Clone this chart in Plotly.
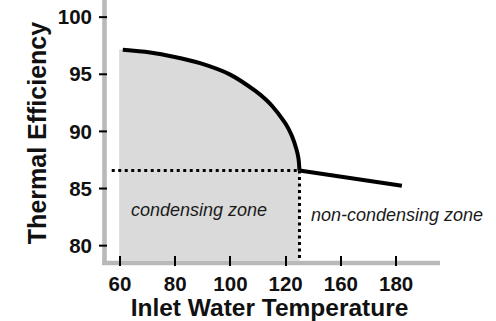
import plotly.graph_objects as go

# Axis positions (x in axis units; tick labels as printed on the chart)
tick_pos = [60, 80, 100, 120, 140, 160]
tick_labels = ["60", "80", "100", "120", "160", "180"]
y_ticks = [80, 85, 90, 95, 100]

# Condensing curve
curve_x = [61.0, 70.9, 79.3, 89.0, 99.9, 108.9, 112.6, 115.1, 119.4, 120.9, 122.3, 123.9, 124.6, 125.0]
curve_y = [97.14, 96.90, 96.54, 95.97, 94.97, 93.56, 92.83, 92.22, 90.88, 90.29, 89.57, 88.44, 87.69, 86.57]

# Non-condensing straight segment
noncond_x = [125.0, 162.1]
noncond_y = [86.57, 85.25]

# Shaded zone boundaries
zone_left = 59.7
zone_top_left = 97.2
zone_bottom = 78.66
axis_bottom = 78.22
axis_top = 101.5
x_min, x_max = 52.39, 175.9

# Gray axis rails (drawn as traces)
rail_x = 54.38
rail_y_low = 78.31
rail_y = 78.485
rail_x_left = 53.48

# Dotted guide lines
guide_h_x = [57.0, 125.0]
guide_y = 86.57
guide_v_bottom = 78.75

fig = go.Figure()
axis_gray = "#b9b9b9"

fig.add_trace(go.Scatter(x=[rail_x, rail_x], y=[rail_y_low, axis_top], mode="lines",
                         line=dict(color=axis_gray, width=4.6), hoverinfo="skip", showlegend=False))
fig.add_trace(go.Scatter(x=[rail_x_left, x_max], y=[rail_y, rail_y], mode="lines",
                         line=dict(color=axis_gray, width=4.5), hoverinfo="skip", showlegend=False))

fill_x = [zone_left, zone_left] + curve_x + [curve_x[-1]]
fill_y = [zone_bottom, zone_top_left] + curve_y + [zone_bottom]
fig.add_trace(go.Scatter(x=fill_x, y=fill_y, fill="toself", fillcolor="#dadada",
                         mode="none", hoverinfo="skip", showlegend=False))

fig.add_trace(go.Scatter(x=guide_h_x, y=[guide_y, guide_y], mode="lines",
                         line=dict(color="black", width=3, dash="3px,3.5px"),
                         showlegend=False))
fig.add_trace(go.Scatter(x=[curve_x[-1], curve_x[-1]], y=[guide_y, guide_v_bottom], mode="lines",
                         line=dict(color="black", width=3, dash="3px,3.5px"),
                         showlegend=False))

fig.add_trace(go.Scatter(x=curve_x, y=curve_y, mode="lines",
                         line=dict(color="black", width=4, shape="spline", smoothing=1.0),
                         showlegend=False))
fig.add_trace(go.Scatter(x=noncond_x, y=noncond_y, mode="lines",
                         line=dict(color="black", width=4), showlegend=False))

fig.add_annotation(x=88.6, y=83.1, text="condensing zone", showarrow=False,
                   font=dict(family="Arial", size=18, color="#1a1a1a", style="italic"))
fig.add_annotation(x=160.4, y=82.7, text="non-condensing zone", showarrow=False,
                   font=dict(family="Arial", size=18, color="#1a1a1a", style="italic"))

# Black y tick marks drawn on top of the gray rail
for yv in y_ticks:
    fig.add_shape(type="line", xref="paper", yref="y", x0=0.0, x1=0.0235, y0=yv, y1=yv,
                  line=dict(color="black", width=2), layer="above")

fig.update_xaxes(range=[x_min, x_max], tickvals=tick_pos, ticktext=tick_labels,
                 showgrid=False, zeroline=False, showline=False,
                 ticks="inside", ticklen=10, tickwidth=2, tickcolor="black",
                 ticklabelstandoff=3,
                 tickfont=dict(family="Arial", size=20.5, color="#111111", weight="bold"),
                 title=dict(text="Inlet Water Temperature", standoff=2,
                            font=dict(family="Arial", size=24.5, color="#111111", weight="bold")))
fig.update_yaxes(range=[axis_bottom, axis_top], tickvals=y_ticks,
                 showgrid=False, zeroline=False, showline=False,
                 ticks="", ticklabelstandoff=6,
                 tickfont=dict(family="Arial", size=20.5, color="#111111", weight="bold"),
                 title=dict(text="Thermal Efficiency", standoff=4,
                            font=dict(family="Arial", size=25, color="#111111", weight="bold")))

fig.update_layout(width=496, height=321, margin=dict(l=99, r=56, t=0, b=55, autoexpand=False),
                  plot_bgcolor="white", paper_bgcolor="white", showlegend=False)

fig.write_html("out.html")
